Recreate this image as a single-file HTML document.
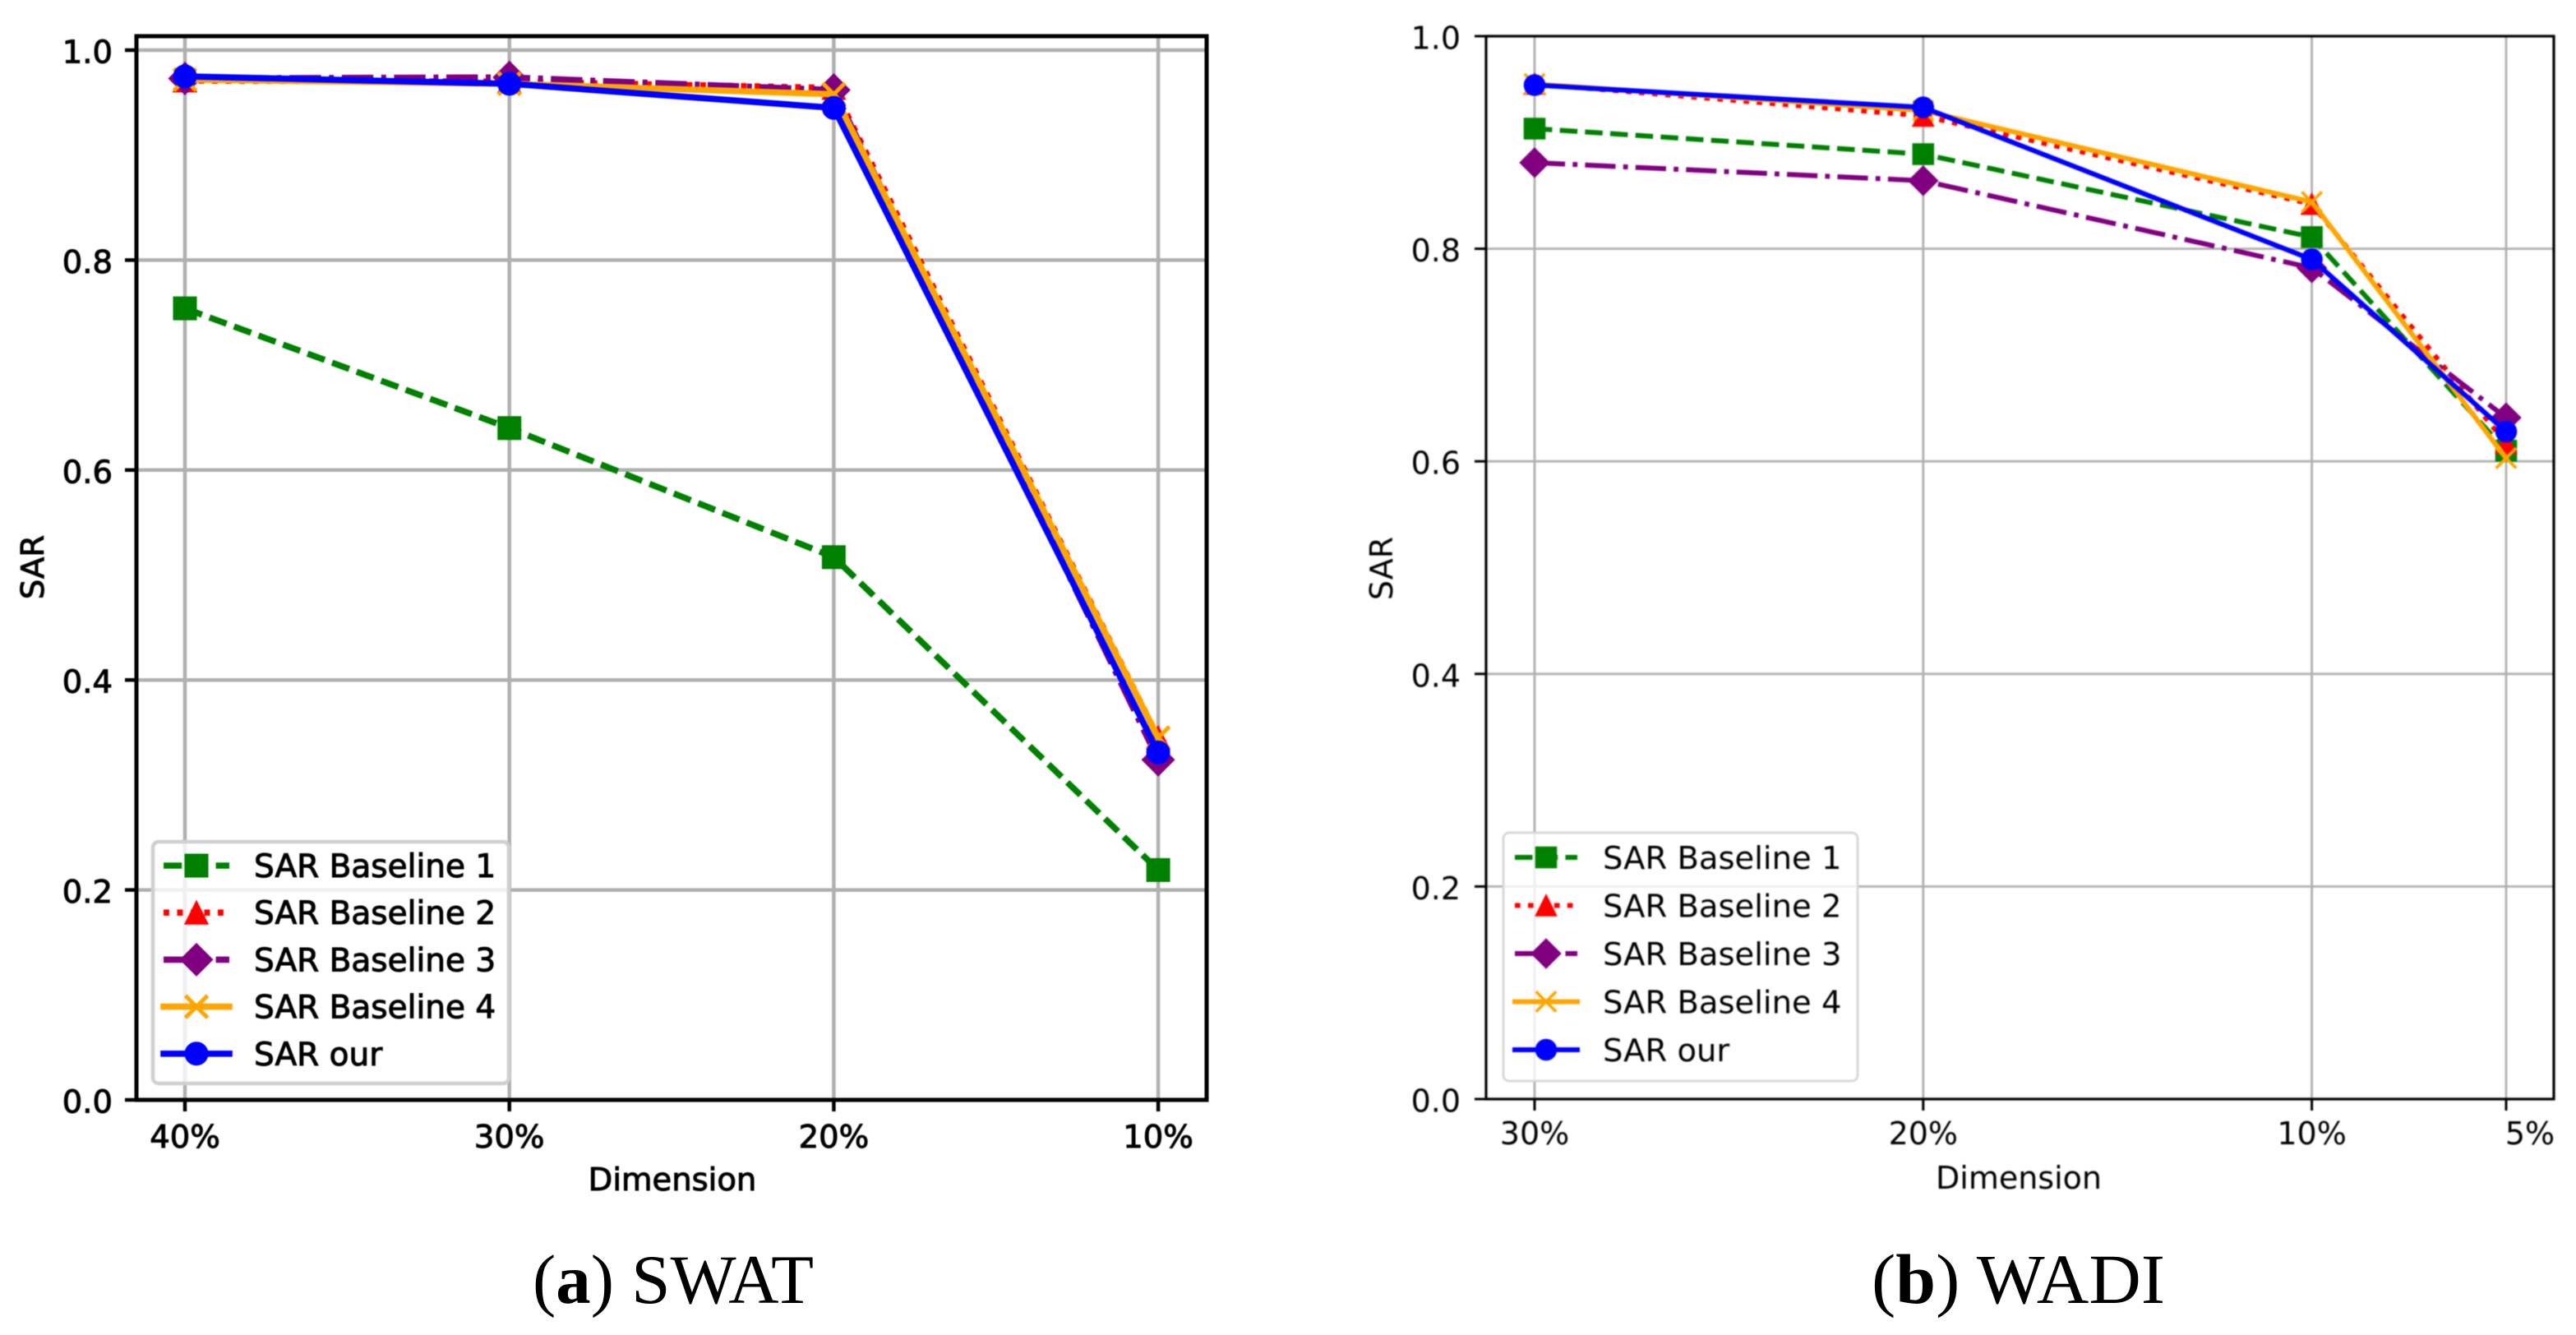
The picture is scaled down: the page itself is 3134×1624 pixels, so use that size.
<!DOCTYPE html>
<html lang="en">
<head>
<meta charset="utf-8">
<title>SAR by Dimension: SWAT and WADI</title>
<style>
html,body{margin:0;padding:0;background:#fff;}
body{width:3134px;height:1624px;overflow:hidden;}
svg{display:block;}
text{font-family:"DejaVu Sans",sans-serif;fill:#000;}
.cap{font-family:"Liberation Serif",serif;}
</style>
</head>
<body>
<svg id="fig" xmlns="http://www.w3.org/2000/svg" width="3134" height="1624" viewBox="0 0 3134 1624">
  <rect width="3134" height="1624" fill="#fff"/>
  <g id="panelA" style="filter:blur(0.5px)"></g>
  <g id="panelB" style="filter:blur(0.7px)"></g>
  <text class="cap" x="648" y="1585" font-size="85" textLength="342" lengthAdjust="spacingAndGlyphs">(<tspan font-weight="bold">a</tspan>) SWAT</text>
  <text class="cap" x="2277" y="1585" font-size="86" textLength="357" lengthAdjust="spacingAndGlyphs">(<tspan font-weight="bold">b</tspan>) WADI</text>
</svg>
<script>
// ---- data ----
const yTickValues = [0, 0.2, 0.4, 0.6, 0.8, 1.0];
const seriesNames = ["SAR Baseline 1", "SAR Baseline 2", "SAR Baseline 3", "SAR Baseline 4", "SAR our"];

const swatDimensions = [40, 30, 20, 10];
const swatBaseline1 = [0.754, 0.640, 0.517, 0.219];
const swatBaseline2 = [0.971, 0.970, 0.964, 0.345];
const swatBaseline3 = [0.973, 0.974, 0.962, 0.324];
const swatBaseline4 = [0.972, 0.968, 0.958, 0.345];
const swatOur = [0.975, 0.968, 0.945, 0.331];

const wadiDimensions = [30, 20, 10, 5];
const wadiBaseline1 = [0.913, 0.889, 0.811, 0.610];
const wadiBaseline2 = [0.955, 0.925, 0.842, 0.617];
const wadiBaseline3 = [0.881, 0.864, 0.782, 0.641];
const wadiBaseline4 = [0.955, 0.930, 0.844, 0.603];
const wadiOur = [0.954, 0.933, 0.790, 0.628];

// ---- helpers ----
const NS = "http://www.w3.org/2000/svg";
function mk(parent, tag, attrs, txt) {
  const el = document.createElementNS(NS, tag);
  for (const k in attrs) el.setAttribute(k, attrs[k]);
  if (txt !== undefined) el.textContent = txt;
  parent.appendChild(el);
  return el;
}
function markerPath(kind, cx, cy, s) {
  const h = s / 2;
  if (kind === "square") return `M${cx-h} ${cy-h}H${cx+h}V${cy+h}H${cx-h}Z`;
  if (kind === "triangle") return `M${cx} ${cy-h}L${cx+h} ${cy+h}H${cx-h}Z`;
  if (kind === "diamond") { const d = s * 0.7071; return `M${cx} ${cy-d}L${cx+d} ${cy}L${cx} ${cy+d}L${cx-d} ${cy}Z`; }
  if (kind === "x") return `M${cx-h} ${cy-h}L${cx+h} ${cy+h}M${cx-h} ${cy+h}L${cx+h} ${cy-h}`;
  return `M${cx-h} ${cy}A${h} ${h} 0 1 0 ${cx+h} ${cy}A${h} ${h} 0 1 0 ${cx-h} ${cy}Z`;
}
const styles = [
  { color: "#008000", kind: "square", dash: u => [3.7*u, 1.6*u], cap: "butt" },
  { color: "#ff0000", kind: "triangle", dash: u => [1.15*u, 1.6*u], cap: "butt" },
  { color: "#800080", kind: "diamond", dash: u => [6.4*u, 1.6*u, 1*u, 1.6*u], cap: "butt" },
  { color: "#ffa500", kind: "x", dash: null, cap: "square" },
  { color: "#0000ff", kind: "circle", dash: null, cap: "square" }
];
function drawMarker(g, st, cx, cy, c) {
  const d = markerPath(st.kind, cx, cy, c.markerSize);
  const p = st.kind === "x"
    ? mk(g, "path", { d, fill: "none", stroke: st.color, "stroke-width": c.xWidth })
    : mk(g, "path", { d, fill: st.color, stroke: st.color, "stroke-width": 2 });
  return p;
}

function drawPanel(c) {
  const g = c.root;
  const xPos = v => c.xFirst + (c.cats[0] - v) * c.xPerUnit;
  const yPos = v => c.yZero - v * c.yPerUnit;

  // grid
  const grid = mk(g, "g", { stroke: "#b0b0b0", "stroke-width": c.gridW, fill: "none" });
  
  
  c.cats.forEach(v => {
    const l = mk(grid, "line", { x1: xPos(v), x2: xPos(v), y1: c.top, y2: c.bottom });
    
    
  });
  yTickValues.forEach(v => {
    const l = mk(grid, "line", { x1: c.left, x2: c.right, y1: yPos(v), y2: yPos(v) });
    
    
  });

  // series
  c.series.forEach((vals, i) => {
    const st = styles[i];
    const sg = mk(g, "g", {});
    
    
    const pts = vals.map((v, j) => xPos(c.cats[j]) + "," + yPos(v)).join(" ");
    const line = mk(sg, "polyline", { points: pts, fill: "none", stroke: st.color, "stroke-width": c.lineW, "stroke-linejoin": "round", "stroke-linecap": st.cap });
    
    
    if (st.dash) line.setAttribute("stroke-dasharray", st.dash(c.dashUnit).join(" "));
    vals.forEach((v, j) => {
      const m = drawMarker(sg, st, xPos(c.cats[j]), yPos(v), c);
      
      
    });
  });

  // spines
  const sp = mk(g, "rect", { x: c.left, y: c.top, width: c.right - c.left, height: c.bottom - c.top, fill: "none", stroke: "#000", "stroke-width": c.spineW });
  
  

  // ticks + labels
  yTickValues.forEach(v => {
    const t = mk(g, "line", { x1: c.left - c.tickLen, x2: c.left, y1: yPos(v), y2: yPos(v), stroke: "#000", "stroke-width": c.tickW });
    
    
    const lb = mk(g, "text", { x: c.yLabelX, y: yPos(v) + 15.5, "text-anchor": "end", "font-size": c.font, stroke: "#000", "stroke-width": c.textStroke }, v.toFixed(1));
    
    
  });
  c.cats.forEach((v, i) => {
    const t = mk(g, "line", { x1: xPos(v), x2: xPos(v), y1: c.bottom, y2: c.bottom + c.tickLen, stroke: "#000", "stroke-width": c.tickW });
    
    
    const off = (c.labelShift && c.labelShift[i]) || 0;
    const lb = mk(g, "text", { x: xPos(v) + off, y: c.xLabelY, "text-anchor": "middle", "font-size": c.font, stroke: "#000", "stroke-width": c.textStroke }, v + "%");
    
    
  });

  // axis titles
  const xt = mk(g, "text", { x: c.xTitleX, y: c.xTitleY, "text-anchor": "middle", "font-size": c.font, stroke: "#000", "stroke-width": c.textStroke }, "Dimension");
  
  
  const yt = mk(g, "text", { x: 0, y: 0, "text-anchor": "middle", "font-size": c.font, stroke: "#000", "stroke-width": c.textStroke, transform: `translate(${c.yTitleX} ${c.yTitleY}) rotate(-90)` }, "SAR");
  
  

  // legend
  const L = c.legend;
  const lg = mk(g, "g", {});
  
  
  const box = mk(lg, "rect", { x: L.x, y: L.y, width: L.w, height: L.h, rx: 7, fill: "rgba(255,255,255,0.8)", stroke: L.stroke, "stroke-width": L.sw });
  
  
  seriesNames.forEach((name, i) => {
    const st = styles[i];
    const y = L.firstRow + i * L.rowStep;
    const e = mk(lg, "g", {});
    
    
    const h = mk(e, "line", { x1: L.h0, x2: L.h1, y1: y, y2: y, stroke: st.color, "stroke-width": c.lineW, "stroke-linecap": st.cap });
    
    
    if (st.dash) h.setAttribute("stroke-dasharray", st.dash(c.dashUnit).join(" "));
    const m = drawMarker(e, st, (L.h0 + L.h1) / 2, y, c);
    
    
    const t = mk(e, "text", { x: L.textX, y: y + 14, "font-size": L.font, stroke: "#000", "stroke-width": c.textStroke }, name);
    
    
  });
}

drawPanel({
  root: document.getElementById("panelA"),
  cats: swatDimensions,
  series: [swatBaseline1, swatBaseline2, swatBaseline3, swatBaseline4, swatOur],
  xFirst: 225, xPerUnit: 39.47, yZero: 1338, yPerUnit: 1277,
  left: 166, right: 1468, top: 44, bottom: 1338,
  gridW: 4.5, lineW: 7.6, dashUnit: 6, spineW: 5, tickW: 4.5, tickLen: 14,
  markerSize: 27, xWidth: 5, font: 38.5, textStroke: 1,
  yLabelX: 137, xLabelY: 1396, xTitleX: 818, xTitleY: 1448, yTitleX: 53, yTitleY: 690,
  legend: { x: 186, y: 1024, w: 433, h: 294, sw: 4.5, stroke: "#d0d0d0", firstRow: 1053, rowStep: 57.2, h0: 199, h1: 279, textX: 309, font: 39 }
});
drawPanel({
  root: document.getElementById("panelB"),
  cats: wadiDimensions,
  series: [wadiBaseline1, wadiBaseline2, wadiBaseline3, wadiBaseline4, wadiOur],
  xFirst: 1867, xPerUnit: 47.28, yZero: 1337, yPerUnit: 1293,
  left: 1808, right: 3107, top: 44, bottom: 1337,
  gridW: 2.8, lineW: 6, dashUnit: 5.8, spineW: 3.2, tickW: 3, tickLen: 14,
  markerSize: 24.5, xWidth: 3.6, font: 38, textStroke: 0,
  labelShift: [0, 0, 0, 29],
  yLabelX: 1777, xLabelY: 1392, xTitleX: 2456, xTitleY: 1446, yTitleX: 1694, yTitleY: 691.5,
  legend: { x: 1829, y: 1013, w: 431, h: 302, sw: 3, stroke: "#d8d8d8", firstRow: 1043, rowStep: 58.5, h0: 1843, h1: 1919, textX: 1950, font: 38.5 }
});
</script>
</body>
</html>
